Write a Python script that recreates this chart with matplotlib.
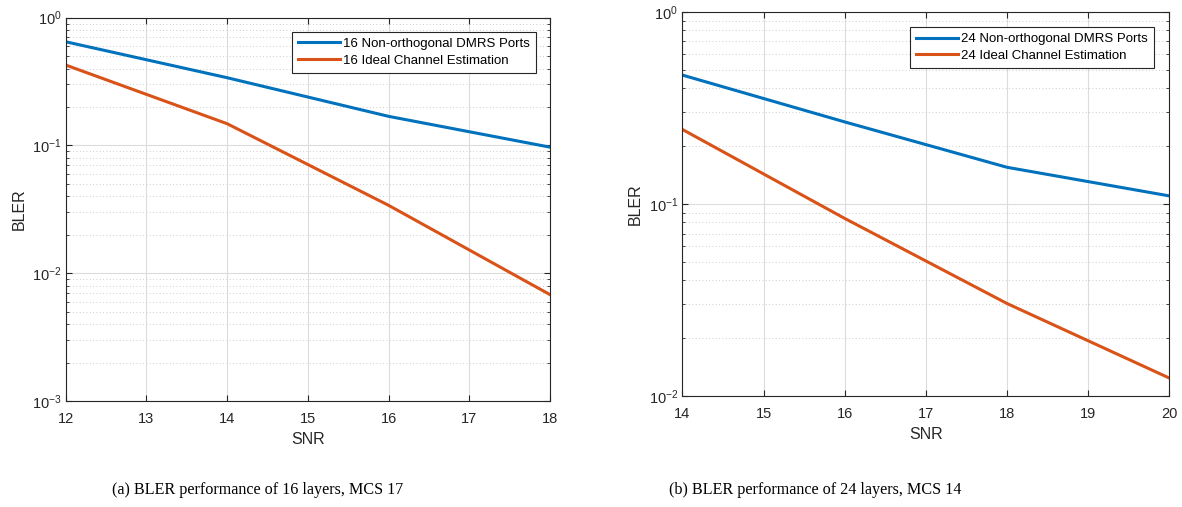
import matplotlib
matplotlib.use('Agg')
import matplotlib.pyplot as plt
from matplotlib.ticker import LogLocator, NullFormatter
import numpy as np

# data
snr_a = [12, 14, 16, 18]
bler_a_dmrs = [0.648, 0.339, 0.169, 0.097]
bler_a_ideal = [0.426, 0.148, 0.034, 0.0068]

snr_b = [14, 16, 18, 20]
bler_b_dmrs = [0.468, 0.267, 0.155, 0.110]
bler_b_ideal = [0.244, 0.084, 0.0303, 0.0124]

labels_a = ['16 Non-orthogonal DMRS Ports', '16 Ideal Channel Estimation']
labels_b = ['24 Non-orthogonal DMRS Ports', '24 Ideal Channel Estimation']
captions = ['(a) BLER performance of 16 layers, MCS 17',
            '(b) BLER performance of 24 layers, MCS 14']

blue = '#0072BD'
orange = '#D95319'

plt.rcParams['font.family'] = ['Liberation Sans', 'DejaVu Sans']

fig = plt.figure(figsize=(11.82, 5.07), dpi=100)
ax1 = fig.add_axes([0.0556, 0.2091, 0.4097, 0.756])
ax2 = fig.add_axes([0.5773, 0.2189, 0.412, 0.758])


def style(ax, x, y1, y2, labels, ylim, legend_box):
    ax.semilogy(x, y1, color=blue, lw=2.2, label=labels[0])
    ax.semilogy(x, y2, color=orange, lw=2.2, label=labels[1])
    ax.set_xlim(x[0], x[-1])
    ax.set_ylim(*ylim)
    ax.set_xticks(np.arange(x[0], x[-1] + 1, 1))
    ax.yaxis.set_major_locator(LogLocator(base=10, numticks=10))
    ax.yaxis.set_minor_locator(LogLocator(base=10, subs=np.arange(2, 10), numticks=20))
    ax.yaxis.set_minor_formatter(NullFormatter())
    ax.grid(True, which='major', color='#dcdcdc', lw=0.8, ls='-')
    ax.grid(True, which='minor', color='#bdbdbd', lw=0.6, ls=(0, (1, 3)))
    ax.tick_params(which='both', direction='in', top=True, right=True,
                   labelsize=10.5, colors='#262626')
    ax.tick_params(axis='x', pad=8)
    ax.tick_params(axis='y', pad=3)
    ax.tick_params(which='major', length=4)
    ax.tick_params(which='minor', length=2)
    for s in ax.spines.values():
        s.set_color('#262626')
        s.set_linewidth(0.8)
    ax.set_xlabel('SNR', fontsize=11.5, color='#262626', labelpad=4)
    ax.set_ylabel('BLER', fontsize=11.5, color='#262626', labelpad=4)
    leg = ax.legend(loc='upper right', bbox_to_anchor=legend_box, fontsize=9.5,
                    fancybox=False, edgecolor='#262626', framealpha=1,
                    handlelength=3.2, handletextpad=0.25, borderpad=0.45,
                    labelspacing=0.35, borderaxespad=0)
    leg.get_frame().set_linewidth(0.8)


style(ax1, snr_a, bler_a_dmrs, bler_a_ideal, labels_a, (1e-3, 1),
      (0.971, 0.963))
style(ax2, snr_b, bler_b_dmrs, bler_b_ideal, labels_b, (1e-2, 1),
      (0.9686, 0.960))

fig.text(258 / 1182, 0.0335, captions[0], ha='center', va='center',
         fontsize=11.6, family='Liberation Serif')
fig.text(815 / 1182, 0.0335, captions[1], ha='center', va='center',
         fontsize=11.6, family='Liberation Serif')

fig.savefig('out.png', dpi=100)
